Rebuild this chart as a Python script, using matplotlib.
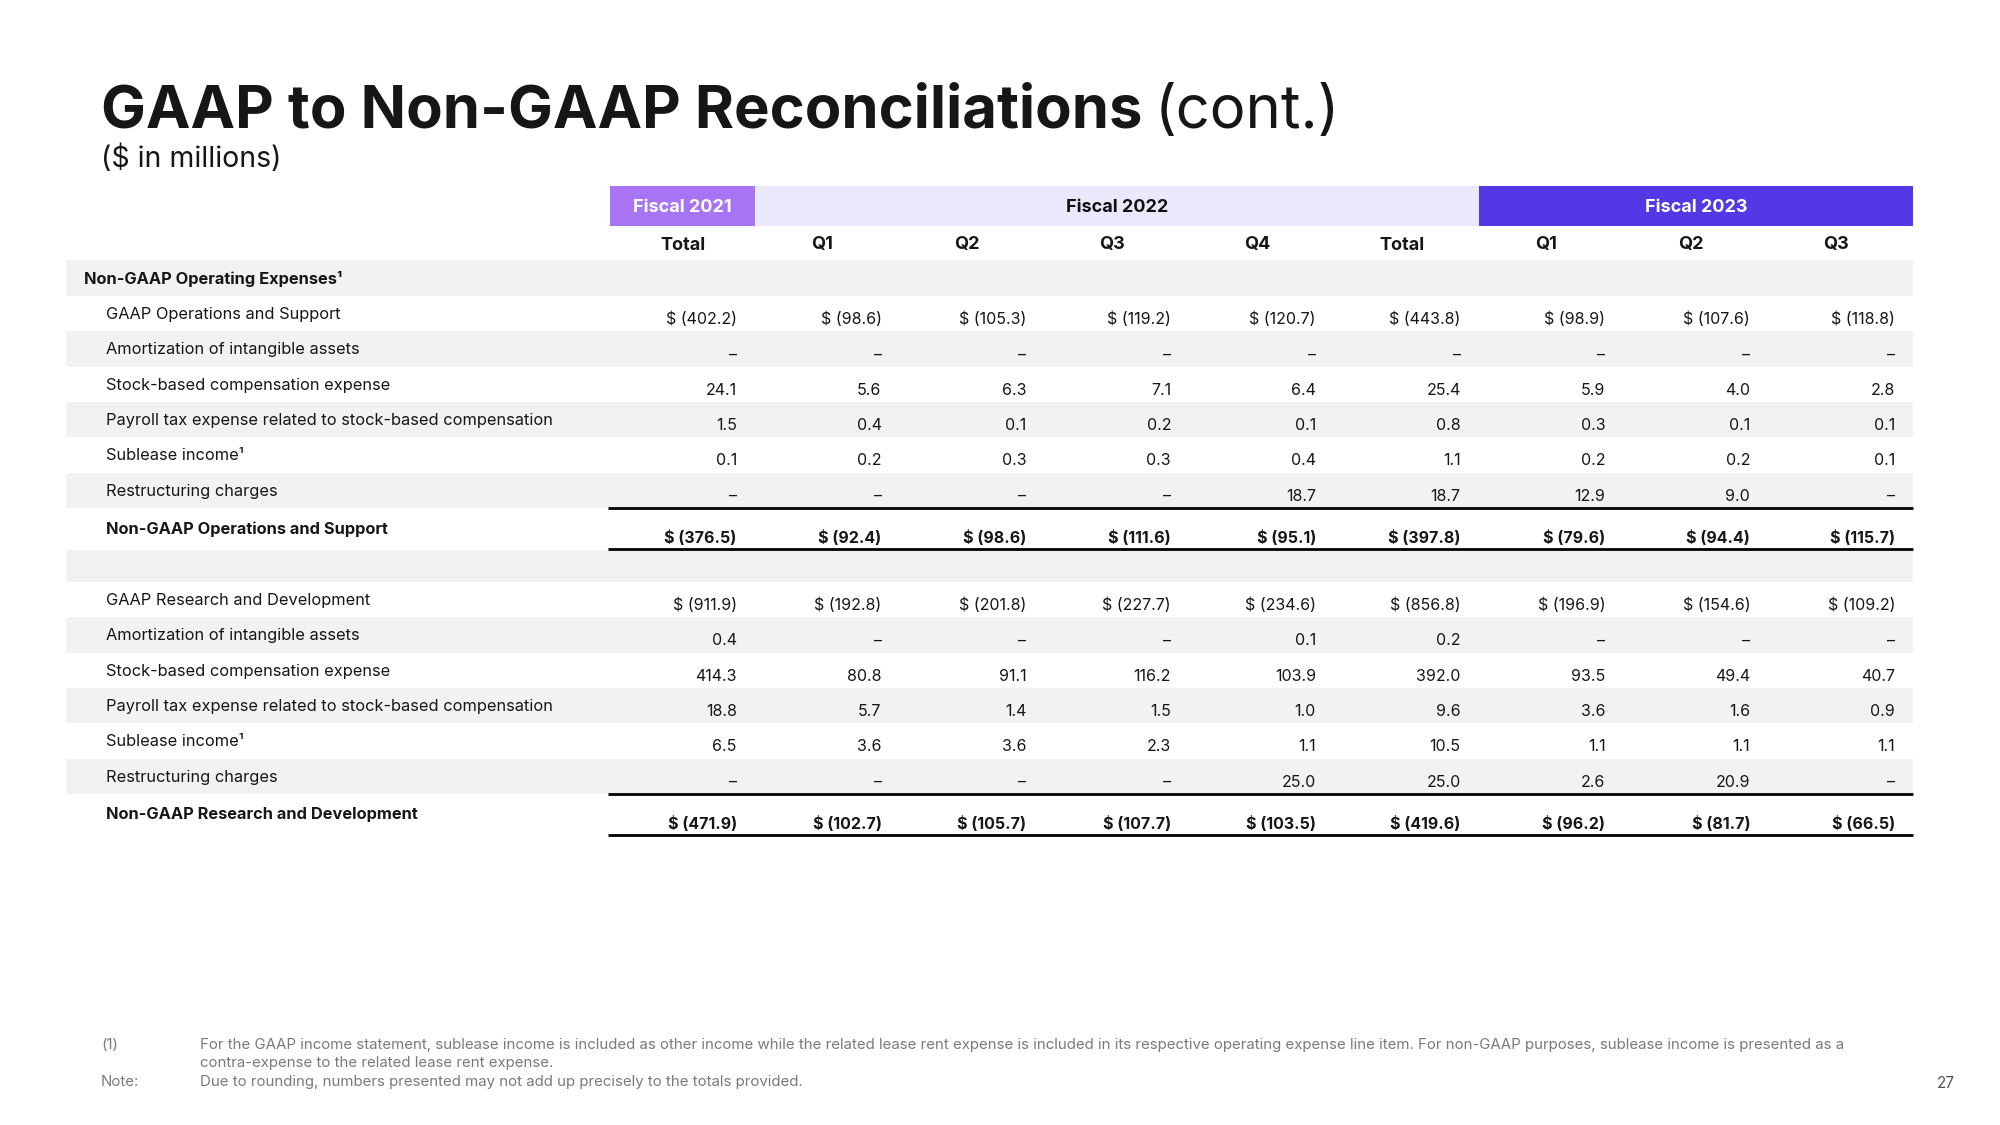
import matplotlib
matplotlib.use("Agg")
import matplotlib.pyplot as plt
from matplotlib.patches import Rectangle

plt.rcParams['font.family'] = ['Inter', 'DejaVu Sans']

# column structure
fiscal_groups = ["Fiscal 2021", "Fiscal 2022", "Fiscal 2023"]
group_spans = [(0, 1), (1, 6), (6, 9)]
group_colors = ["#A874F6", "#EAE9FC", "#5339E6"]
group_text = ["white", "#111111", "white"]
columns = ["Total", "Q1", "Q2", "Q3", "Q4", "Total", "Q1", "Q2", "Q3"]

item_labels = ["Amortization of intangible assets",
               "Stock-based compensation expense",
               "Payroll tax expense related to stock-based compensation",
               "Sublease income\u00b9",
               "Restructuring charges"]

# Operations and Support (None = dash)
ops_gaap = [-402.2, -98.6, -105.3, -119.2, -120.7, -443.8, -98.9, -107.6, -118.8]
ops_amort = [None, None, None, None, None, None, None, None, None]
ops_sbc = [24.1, 5.6, 6.3, 7.1, 6.4, 25.4, 5.9, 4.0, 2.8]
ops_payroll = [1.5, 0.4, 0.1, 0.2, 0.1, 0.8, 0.3, 0.1, 0.1]
ops_sublease = [0.1, 0.2, 0.3, 0.3, 0.4, 1.1, 0.2, 0.2, 0.1]
ops_restr = [None, None, None, None, 18.7, 18.7, 12.9, 9.0, None]
ops_nongaap = [-376.5, -92.4, -98.6, -111.6, -95.1, -397.8, -79.6, -94.4, -115.7]

# Research and Development
rd_gaap = [-911.9, -192.8, -201.8, -227.7, -234.6, -856.8, -196.9, -154.6, -109.2]
rd_amort = [0.4, None, None, None, 0.1, 0.2, None, None, None]
rd_sbc = [414.3, 80.8, 91.1, 116.2, 103.9, 392.0, 93.5, 49.4, 40.7]
rd_payroll = [18.8, 5.7, 1.4, 1.5, 1.0, 9.6, 3.6, 1.6, 0.9]
rd_sublease = [6.5, 3.6, 3.6, 2.3, 1.1, 10.5, 1.1, 1.1, 1.1]
rd_restr = [None, None, None, None, 25.0, 25.0, 2.6, 20.9, None]
rd_nongaap = [-471.9, -102.7, -105.7, -107.7, -103.5, -419.6, -96.2, -81.7, -66.5]

sections = [
    ("GAAP Operations and Support", ops_gaap,
     [ops_amort, ops_sbc, ops_payroll, ops_sublease, ops_restr],
     "Non-GAAP Operations and Support", ops_nongaap),
    ("GAAP Research and Development", rd_gaap,
     [rd_amort, rd_sbc, rd_payroll, rd_sublease, rd_restr],
     "Non-GAAP Research and Development", rd_nongaap),
]


def fmt(v):
    if v is None:
        return "\u2013"
    if v < 0:
        return "$ ({:.1f})".format(-v)
    return "{:.1f}".format(v)


fig = plt.figure(figsize=(20, 11.25), dpi=100)
ax = fig.add_axes([0, 0, 1, 1])
ax.set_xlim(0, 2000)
ax.set_ylim(1125, 0)
ax.axis('off')

dark = "#161616"
gray_band = "#F2F2F2"
lab_fs = 11.8

# title
t = ax.text(101, 128, "GAAP to Non-GAAP Reconciliations", fontsize=43,
            fontweight='bold', color=dark, va='baseline')
fig.canvas.draw()
bb = t.get_window_extent()
x_end = bb.x1
ax.text(x_end + 12, 128, "(cont.)", fontsize=43, color=dark, va='baseline')
ax.text(101, 167, "($ in millions)", fontsize=20.5, color=dark, va='baseline')

# layout
tbl_left, tbl_right = 66, 1913
col_left = 610
col_w = (tbl_right - col_left) / len(columns)
col_rightx = [col_left + col_w * (i + 1) - 18 for i in range(len(columns))]
col_head = [x - 59 for x in col_rightx]
col_head[0] = col_rightx[0] - 54
row_h = 35.3

# fiscal headers
for name, (a, b), c, tc in zip(fiscal_groups, group_spans, group_colors, group_text):
    x0 = col_left + col_w * a
    x1 = col_left + col_w * b
    ax.add_patch(Rectangle((x0, 186), x1 - x0, 40, color=c, lw=0))
    ax.text((x0 + x1) / 2, 207, name, fontsize=13, fontweight='bold', color=tc,
            ha='center', va='center')

for x, c in zip(col_head, columns):
    ax.text(x, 245, c, fontsize=13, fontweight='bold', color=dark,
            ha='center', va='center')

# section header row
ax.add_patch(Rectangle((tbl_left, 260), tbl_right - tbl_left, 36, color=gray_band, lw=0))
ax.text(84, 279, "Non-GAAP Operating Expenses\u00b9", fontsize=lab_fs,
        fontweight='bold', color=dark, va='center')

tops = [296, 582]
for (glabel, gvals, items, nlabel, nvals), top in zip(sections, tops):
    labels = [glabel] + item_labels
    rows = [gvals] + items
    for i, (lab, vals) in enumerate(zip(labels, rows)):
        y0 = top + i * row_h
        if i % 2 == 1:
            ax.add_patch(Rectangle((tbl_left, y0), tbl_right - tbl_left, row_h,
                                   color=gray_band, lw=0))
        ax.text(106, y0 + row_h / 2 + 1, lab, fontsize=lab_fs, color=dark, va='center')
        for x, v in zip(col_rightx, vals):
            ax.text(x, y0 + row_h / 2 + 6, fmt(v), fontsize=11.5, color=dark,
                    ha='right', va='center')
    yl = top + 6 * row_h
    ax.plot([col_left - 2, tbl_right], [yl, yl], color='black', lw=2, solid_capstyle='butt')
    ax.text(106, yl + 21, nlabel, fontsize=lab_fs, fontweight='bold', color=dark, va='center')
    for x, v in zip(col_rightx, nvals):
        ax.text(x, yl + 30, fmt(v), fontsize=11.5, fontweight='bold', color=dark,
                ha='right', va='center')
    ax.plot([col_left - 2, tbl_right], [yl + 41, yl + 41], color='black', lw=2,
            solid_capstyle='butt')

# empty band between sections
ax.add_patch(Rectangle((tbl_left, 550), tbl_right - tbl_left, 32, color=gray_band, lw=0))

# footnotes
fn_color = "#7a7a7a"
fn_fs = 10.8
ax.text(101, 1045, "(1)", fontsize=fn_fs, color=fn_color, va='center')
ax.text(200, 1045, "For the GAAP income statement, sublease income is included as other income while the "
        "related lease rent expense is included in its respective operating expense line item. "
        "For non-GAAP purposes, sublease income is presented as a", fontsize=fn_fs,
        color=fn_color, va='center')
ax.text(200, 1063, "contra-expense to the related lease rent expense.", fontsize=fn_fs,
        color=fn_color, va='center')
ax.text(101, 1082, "Note:", fontsize=fn_fs, color=fn_color, va='center')
ax.text(200, 1082, "Due to rounding, numbers presented may not add up precisely to the totals provided.",
        fontsize=fn_fs, color=fn_color, va='center')
ax.text(1955, 1083, "27", fontsize=11, color="#555555", ha='right', va='center')

fig.savefig("out.png", dpi=100, facecolor='white')
